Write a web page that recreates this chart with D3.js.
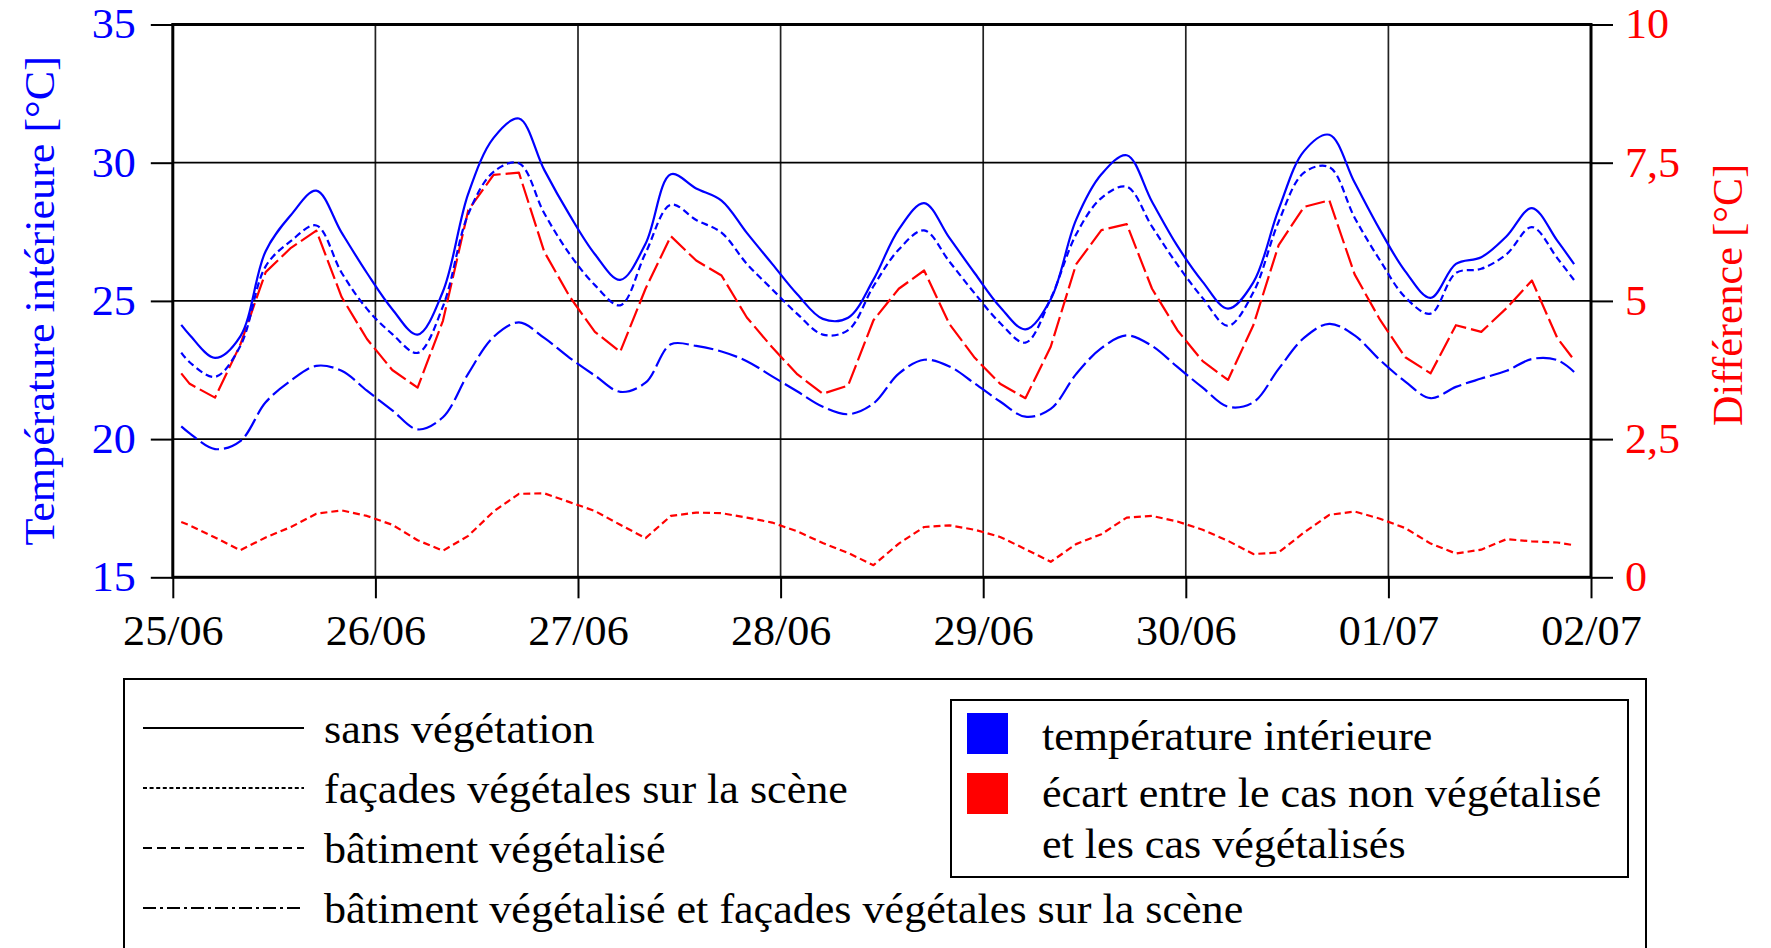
<!DOCTYPE html>
<html>
<head>
<meta charset="utf-8">
<script src="https://cdn.jsdelivr.net/npm/d3@7"></script>
<style>
  html, body { margin: 0; padding: 0; background: #fff; }
  svg { display: block; }
  text { font-family: "Liberation Serif", "Times New Roman", serif; }
</style>
</head>
<body>
<svg id="chart" width="1771" height="948"></svg>
<script>
// ---- data -------------------------------------------------------------
// day labels for the x axis (midnight of each day)
const dayLabels = ["25/06", "26/06", "27/06", "28/06", "29/06", "30/06", "01/07", "02/07"];
const dayTicks = [0, 24, 48, 72, 96, 120, 144, 168];

// sample times, hours since 25/06 00:00
const hours = [1, 2, 5, 8, 11, 14, 17, 20, 23, 26, 29, 32, 35, 38, 41,
  44, 47, 50, 53, 56, 59, 62, 65, 68, 71, 74, 77, 80, 83,
  86, 89, 92, 95, 98, 101, 104, 107, 110, 113, 116, 119, 122, 125,
  128, 131, 134, 137, 140, 143, 146, 149, 152, 155, 158, 161, 164, 166];

// indoor temperature [°C]
const sansVegetation = [24.13, 23.77, 22.94, 23.72, 26.80, 28.11, 28.99, 27.47, 26.01, 24.70, 23.78, 25.34, 28.88, 30.90, 31.60,
  29.74, 28.11, 26.69, 25.76, 27.07, 29.58, 29.07, 28.63, 27.46, 26.34, 25.23, 24.35, 24.39, 25.77,
  27.59, 28.54, 27.28, 26.00, 24.78, 23.97, 25.06, 27.93, 29.58, 30.27, 28.59, 26.99, 25.69, 24.72,
  25.67, 28.31, 30.42, 31.01, 29.28, 27.57, 26.07, 25.11, 26.34, 26.58, 27.34, 28.36, 27.18, 26.33];

const facadesVegetales = [23.13, 22.78, 22.25, 23.37, 26.25, 27.17, 27.73, 26.02, 24.71, 23.80, 23.12, 24.80, 28.14, 29.67, 29.98,
  28.17, 26.70, 25.57, 24.84, 26.73, 28.48, 27.93, 27.47, 26.34, 25.42, 24.52, 23.78, 23.94, 25.53,
  26.86, 27.55, 26.42, 25.27, 24.20, 23.49, 25.09, 27.40, 28.72, 29.13, 27.69, 26.31, 25.10, 24.10,
  25.31, 27.87, 29.64, 29.84, 28.01, 26.47, 25.13, 24.54, 26.01, 26.16, 26.69, 27.67, 26.55, 25.75];

const batimentEtFacades = [20.46, 20.21, 19.64, 19.93, 21.33, 22.12, 22.65, 22.47, 21.75, 21.04, 20.35, 20.79, 22.37, 23.70, 24.22,
  23.66, 22.94, 22.30, 21.71, 22.04, 23.43, 23.37, 23.17, 22.82, 22.27, 21.72, 21.17, 20.90, 21.29,
  22.37, 22.87, 22.63, 22.01, 21.36, 20.81, 21.09, 22.35, 23.29, 23.75, 23.37, 22.61, 21.86, 21.17,
  21.33, 22.54, 23.66, 24.17, 23.75, 22.86, 22.08, 21.48, 21.89, 22.19, 22.47, 22.90, 22.86, 22.43];

// difference with the non-vegetated case [°C]
const ecartBatimentEtFacades = [3.69, 3.50, 3.25, 4.21, 5.52, 5.96, 6.27, 5.07, 4.31, 3.75, 3.43, 4.64, 6.64, 7.28, 7.32,
  5.89, 5.08, 4.44, 4.08, 5.22, 6.17, 5.73, 5.46, 4.70, 4.16, 3.67, 3.32, 3.47, 4.65,
  5.22, 5.55, 4.58, 3.97, 3.50, 3.24, 4.17, 5.66, 6.28, 6.39, 5.22, 4.47, 3.91, 3.57,
  4.56, 6.01, 6.70, 6.82, 5.48, 4.66, 3.98, 3.69, 4.56, 4.44, 4.87, 5.37, 4.33, 3.93];

const ecartFacades = [1.00, 0.94, 0.72, 0.49, 0.72, 0.91, 1.15, 1.21, 1.11, 0.95, 0.67, 0.48, 0.75, 1.19, 1.51,
  1.52, 1.36, 1.20, 0.95, 0.71, 1.11, 1.17, 1.16, 1.08, 0.99, 0.83, 0.62, 0.44, 0.22,
  0.61, 0.91, 0.94, 0.86, 0.73, 0.51, 0.28, 0.60, 0.78, 1.08, 1.11, 1.01, 0.86, 0.66,
  0.42, 0.45, 0.81, 1.13, 1.19, 1.06, 0.89, 0.61, 0.43, 0.50, 0.69, 0.65, 0.63, 0.58];

const leftTicks = [15, 20, 25, 30, 35];
const rightTicks = [0, 2.5, 5, 7.5, 10];
const rightTickLabels = ["0", "2,5", "5", "7,5", "10"];

const lineLegendLabels = ["sans végétation", "façades végétales sur la scène",
  "bâtiment végétalisé", "bâtiment végétalisé et façades végétales sur la scène"];
const colourLegendLabels = [["température intérieure"],
  ["écart entre le cas non végétalisé", "et les cas végétalisés"]];

// ---- layout & styles ------------------------------------------------------
const BLUE = "#0000ff", RED = "#ff0000";
const FONT = 42;
const STRETCH = 1.05;          // widen the serif face a little
const plot = { left: 172.8, right: 1591, top: 24.5, bottom: 577.3 };
const legendDashes = [null, "4,2.6", "9,5", "13,4,3,4"];

const svg = d3.select("#chart");
svg.append("rect").attr("width", 1771).attr("height", 948).attr("fill", "#fff");

// move x/y of a text into a transform so the glyphs can be stretched horizontally
function stretch(sel) {
  sel.each(function () {
    const t = d3.select(this);
    const tx = +t.attr("x") || 0, ty = +t.attr("y") || 0;
    t.attr("x", 0).attr("y", 0)
      .attr("transform", `translate(${tx},${ty}) scale(${STRETCH},1)`);
  });
}

const x = d3.scaleLinear().domain([0, 168]).range([plot.left, plot.right]);
const yT = d3.scaleLinear().domain([15, 35]).range([plot.bottom, plot.top]);
const yD = d3.scaleLinear().domain([0, 10]).range([plot.bottom, plot.top]);

// grid
const grid = svg.append("g");
grid.selectAll("line.v").data(dayTicks.slice(1, -1)).join("line")
  .attr("x1", d => x(d)).attr("x2", d => x(d))
  .attr("y1", plot.top).attr("y2", plot.bottom)
  .attr("stroke", "#222").attr("stroke-width", 1.7);
grid.selectAll("line.h").data(leftTicks.slice(1, -1)).join("line")
  .attr("x1", plot.left).attr("x2", plot.right)
  .attr("y1", d => yT(d)).attr("y2", d => yT(d))
  .attr("stroke", "#000").attr("stroke-width", 1.7);

// axes
function styleAxis(g, colour) {
  g.select(".domain").remove();
  g.selectAll(".tick line").attr("stroke", "#000").attr("stroke-width", 2);
  g.selectAll(".tick text").attr("fill", colour)
    .style("font-size", FONT + "px")
    .style("font-family", '"Liberation Serif", serif')
    .call(stretch);
}

svg.append("g").attr("transform", `translate(${plot.left},0)`)
  .call(d3.axisLeft(yT).tickValues(leftTicks).tickSize(22).tickPadding(15))
  .call(g => styleAxis(g, BLUE));

svg.append("g").attr("transform", `translate(${plot.right},0)`)
  .call(d3.axisRight(yD).tickValues(rightTicks).tickSize(22).tickPadding(12)
    .tickFormat((d, i) => rightTickLabels[i]))
  .call(g => styleAxis(g, RED));

svg.append("g").attr("transform", `translate(0,${plot.bottom})`)
  .call(d3.axisBottom(x).tickValues(dayTicks).tickSize(21).tickPadding(17)
    .tickFormat((d, i) => dayLabels[i]))
  .call(g => styleAxis(g, "#000"));

// series
const tempLine = v => d3.line().curve(d3.curveCatmullRom.alpha(0.5))
  .x((d, i) => x(hours[i])).y(d => yT(d))(v);
const diffLine = v => d3.line()
  .x((d, i) => x(hours[i])).y(d => yD(d))(v);

const series = [
  { path: diffLine(ecartFacades), colour: RED, dash: "7,4" },
  { path: diffLine(ecartBatimentEtFacades), colour: RED, dash: "20,5" },
  { path: tempLine(batimentEtFacades), colour: BLUE, dash: "20,5" },
  { path: tempLine(facadesVegetales), colour: BLUE, dash: "7,4" },
  { path: tempLine(sansVegetation), colour: BLUE, dash: null }
];
svg.append("g").selectAll("path").data(series).join("path")
  .attr("d", d => d.path)
  .attr("fill", "none")
  .attr("stroke", d => d.colour)
  .attr("stroke-width", 2.2)
  .attr("stroke-linejoin", "round")
  .attr("stroke-dasharray", d => d.dash);

// frame
svg.append("rect")
  .attr("x", plot.left).attr("y", plot.top)
  .attr("width", plot.right - plot.left).attr("height", plot.bottom - plot.top)
  .attr("fill", "none").attr("stroke", "#000").attr("stroke-width", 3);

// axis titles
svg.append("text")
  .attr("transform", `translate(53.6,${(plot.top + plot.bottom) / 2}) rotate(-90) scale(${STRETCH},1)`)
  .attr("text-anchor", "middle").attr("fill", BLUE)
  .style("font-size", FONT + "px")
  .text("Température intérieure [°C]");

svg.append("text")
  .attr("transform", `translate(1742,${(plot.top + plot.bottom) / 2 - 6}) rotate(-90)`)
  .attr("text-anchor", "middle").attr("fill", RED)
  .style("font-size", FONT + "px")
  .text("Différence [°C]");

// legend
const legend = svg.append("g");
legend.append("rect")
  .attr("x", 124).attr("y", 679).attr("width", 1522).attr("height", 300)
  .attr("fill", "none").attr("stroke", "#000").attr("stroke-width", 2);

const rows = legend.selectAll("g.row").data(lineLegendLabels).join("g")
  .attr("transform", (d, i) => `translate(0,${728 + i * 60})`);
rows.append("line")
  .attr("x1", 143).attr("x2", 304).attr("y1", 0).attr("y2", 0)
  .attr("stroke", "#000").attr("stroke-width", 1.8)
  .attr("stroke-dasharray", (d, i) => legendDashes[i]);
rows.append("text")
  .attr("x", 324).attr("y", 15)
  .style("font-size", FONT + "px").attr("fill", "#000")
  .text(d => d)
  .call(stretch);

legend.append("rect")
  .attr("x", 951).attr("y", 700).attr("width", 677).attr("height", 177)
  .attr("fill", "#fff").attr("stroke", "#000").attr("stroke-width", 2);

const swatchColours = [BLUE, RED];
const swatchTop = [713, 773];
const textBaselines = [[750], [806.7, 858]];
colourLegendLabels.forEach((lines, i) => {
  legend.append("rect")
    .attr("x", 967).attr("y", swatchTop[i]).attr("width", 41).attr("height", 41)
    .attr("fill", swatchColours[i]);
  lines.forEach((t, j) => {
    legend.append("text")
      .attr("x", 1042).attr("y", textBaselines[i][j])
      .style("font-size", FONT + "px").attr("fill", "#000")
      .text(t)
      .call(stretch);
  });
});
</script>
</body>
</html>
